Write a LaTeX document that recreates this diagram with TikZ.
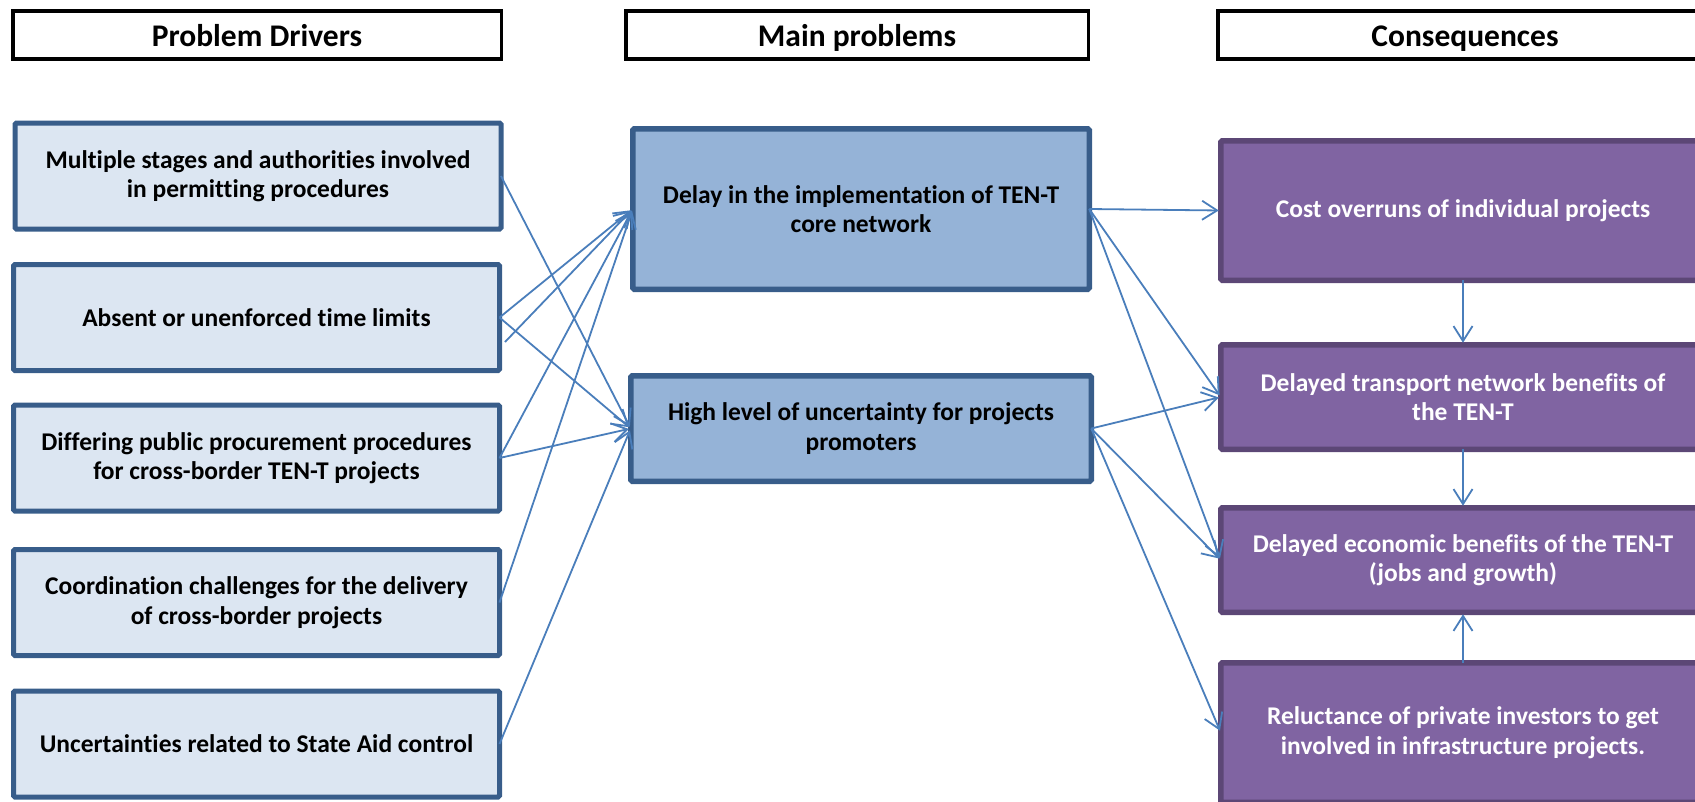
\documentclass[tikz,border=0pt]{standalone}
\usepackage{fontspec}
\setmainfont{Carlito}[Ligatures=CommonOff]
\usetikzlibrary{arrows.meta}
\definecolor{drvfill}{HTML}{DCE6F2}
\definecolor{drvline}{HTML}{385D8A}
\definecolor{mainfill}{HTML}{95B3D7}
\definecolor{consfill}{HTML}{8064A2}
\definecolor{consline}{HTML}{5C4776}
\definecolor{connblue}{HTML}{4A7EBB}

\begin{document}
\begin{tikzpicture}[x=1pt,y=-1pt,
  every node/.style={font=\fontsize{25.5}{29.5}\selectfont\bfseries, align=center,
    inner sep=0pt, outer sep=0pt},
  header/.style={draw=black, line width=3.5pt, fill=white, minimum height=48pt,
    text height=29pt, text depth=6pt,
    font=\fontsize{31.5}{36}\selectfont\bfseries},
  driver/.style={draw=drvline, fill=drvfill, line width=5pt, minimum width=486pt,
    minimum height=106pt, rounded corners=1.5pt},
  mainbox/.style={draw=drvline, fill=mainfill, line width=5.5pt, rounded corners=1.5pt},
  consbox/.style={draw=consline, fill=consfill, line width=5.5pt, minimum width=484.5pt,
    text=white, rounded corners=1.5pt},
  conn/.style={draw=connblue, line width=1.8pt, shorten >=2pt,
    -{Straight Barb[length=15pt,width=19pt]}},
]
\useasboundingbox (0,0) rectangle (1695,801);
\clip (0,0) rectangle (1695,801);

% column headings
\node[header, minimum width=488.5pt] (hd) at (257,35) {Problem Drivers};
\node[header, minimum width=462.5pt] (hm) at (857,35) {Main problems};
\node[header, minimum width=494.5pt] (hc) at (1465,35) {Consequences};

% problem drivers
\node[driver] (d1) at (258,176) {Multiple stages and authorities involved\\in permitting procedures};
\node[driver] (d2) at (256.5,317.5) {Absent or unenforced time limits};
\node[driver] (d3) at (256.5,458) {Differing public procurement procedures\\for cross-border TEN-T projects};
\node[driver] (d4) at (256.5,602.5) {Coordination challenges for the delivery\\of cross-border projects};
\node[driver] (d5) at (256.5,744) {Uncertainties related to State Aid control};

% main problems
\node[mainbox, minimum width=456.5pt, minimum height=160.5pt] (pa) at (861,209)
  {Delay in the implementation of TEN-T\\core network};
\node[mainbox, minimum width=460.5pt, minimum height=105.5pt] (pb) at (861,428.5)
  {High level of uncertainty for projects\\promoters};

% consequences
\node[consbox, minimum height=139.5pt] (c1) at (1463,210.5) {Cost overruns of individual projects};
\node[consbox, minimum height=104.5pt] (c2) at (1463,397) {Delayed transport network benefits of\\the TEN-T};
\node[consbox, minimum height=104.5pt] (c3) at (1463,560) {Delayed economic benefits of the TEN-T\\(jobs and growth)};
\node[consbox, minimum height=139.5pt] (c4) at (1463,732.5) {Reluctance of private investors to get\\involved in infrastructure projects.};

% drivers -> main problems
\coordinate (s2) at (505,342);
\draw[conn] (d1.east) -- (pb.west);
\draw[conn] (d2.east) -- (pa.west);
\draw[conn] (d2.east) -- (pb.west);
\draw[conn] (s2) -- (pa.west);
\draw[conn] (d3.east) -- (pa.west);
\draw[conn] (d3.east) -- (pb.west);
\draw[conn] (d4.east) -- (pa.west);
\draw[conn] (d5.east) -- (pb.west);

% main problems -> consequences
\draw[conn] (pa.east) -- (c1.west);
\draw[conn] (pa.east) -- (c2.west);
\draw[conn] (pa.east) -- (c3.west);
\draw[conn] (pb.east) -- (c2.west);
\draw[conn] (pb.east) -- (c3.west);
\draw[conn] (pb.east) -- (c4.west);

% links between consequences
\draw[conn] (c1.south) -- (c2.north);
\draw[conn] (c2.south) -- (c3.north);
\draw[conn] (c4.north) -- (c3.south);
\end{tikzpicture}
\end{document}
